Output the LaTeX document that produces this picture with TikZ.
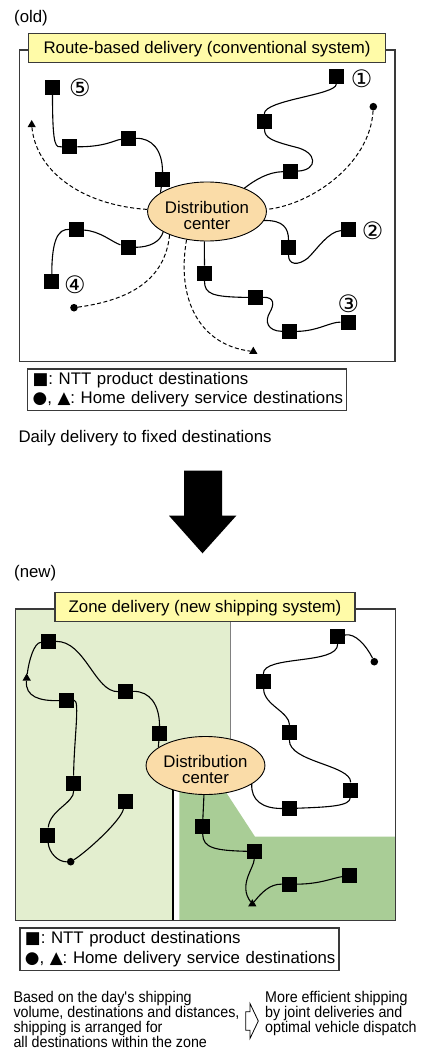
\documentclass[tikz,border=0pt]{standalone}
\usepackage{fontspec}
\setmainfont{Liberation Sans}
\newfontfamily\circfont{DejaVu Sans}
\newfontfamily\narrowfont[FakeStretch=0.92]{Liberation Sans}
\newcommand\mk[1]{{\circfont #1}}
\usetikzlibrary{shapes.geometric}

\definecolor{framegray}{HTML}{3A3A3A}
\definecolor{titleyellow}{HTML}{FFFBA8}
\definecolor{hubpeach}{HTML}{FADCA8}
\definecolor{zonelight}{HTML}{E3EECF}
\definecolor{zonedark}{HTML}{A9CD96}

\tikzset{
  every node/.style={font=\fontsize{16.8pt}{20pt}\selectfont},
  dest/.style={rectangle, fill=black, minimum size=15pt, inner sep=0pt},
  homedot/.style={circle, fill=black, minimum size=7.6pt, inner sep=0pt},
  hometri/.style={regular polygon, regular polygon sides=3, fill=black,
    minimum size=9.6pt, inner sep=0pt},
  hub/.style={ellipse, draw=black, line width=0.9pt, fill=hubpeach,
    minimum width=113pt, minimum height=59pt, inner sep=0pt, align=center,
    font=\fontsize{16.8pt}{16pt}\selectfont},
  route/.style={line width=1.1pt},
  hdash/.style={line width=1pt, dash pattern=on 4pt off 2.5pt},
  frame/.style={draw=framegray, line width=1.3pt},
  titlebox/.style={draw=framegray, line width=1.2pt, fill=titleyellow,
    inner sep=0pt, text height=14pt, text depth=3pt, minimum height=29pt},
  legendbox/.style={draw=framegray, line width=1.2pt, fill=white,
    anchor=north west, inner xsep=5pt, inner ysep=0pt, align=left,
    text width=309pt, font=\fontsize{16.8pt}{19.5pt}\selectfont},
  circnum/.style={font=\circfont\fontsize{24pt}{24pt}\selectfont, inner sep=0pt},
  plain/.style={anchor=base west, inner sep=0pt},
  note/.style={anchor=base west, inner sep=0pt, align=left,
    font=\narrowfont\fontsize{15.5pt}{15pt}\selectfont},
}

\begin{document}
\frenchspacing
\begin{tikzpicture}[x=1pt, y=-1pt]
\fill[white] (0,0) rectangle (423,1059);
\useasboundingbox (0,0) rectangle (423,1059);

% ---------------- conventional system ----------------
\node[plain] (oldlbl) at (14,22.5) {(old)};
\draw[frame] (19.5,50) rectangle (395,361.7);
\node[titlebox, minimum width=357.4pt] (t1) at (207,47.7)
  {Route-based delivery (conventional system)};

\node[hub] (dc) at (207,211.5) {\rule{0pt}{19.6pt}Distribution\\center};

\node[dest] (s5a) at (52.5,87.5) {};
\node[dest] (s5b) at (69.7,146.7) {};
\node[dest] (s5c) at (128.5,138.5) {};
\node[dest] (s5d) at (162.5,179.5) {};
\node[dest] (s1a) at (336.5,76.5) {};
\node[dest] (s1b) at (264.5,121.5) {};
\node[dest] (s1c) at (290.5,171.5) {};
\node[dest] (s4a) at (76.5,229.7) {};
\node[dest] (s4b) at (128.2,247.5) {};
\node[dest] (s4c) at (51.8,281.5) {};
\node[dest] (s2a) at (288.5,247.5) {};
\node[dest] (s2b) at (348.5,229.7) {};
\node[dest] (s3a) at (204.5,273.3) {};
\node[dest] (s3b) at (255.5,297.5) {};
\node[dest] (s3c) at (289.5,331.5) {};
\node[dest] (s3d) at (348.2,322.2) {};

\node[homedot] (h1) at (373.3,106.7) {};
\node[homedot] (h2) at (74,307.7) {};
\node[hometri] (k1) at (31.7,124.8) {};
\node[hometri] (k2) at (253.3,351.5) {};

\node[circnum] (n1) at (361.7,79) {①};
\node[circnum] (n2) at (372.7,230.7) {②};
\node[circnum] (n3) at (348.3,303.3) {③};
\node[circnum] (n4) at (75,285) {④};
\node[circnum] (n5) at (80,88) {⑤};

% route 5
\draw[route] (s5a) .. controls (52.5,150) and (56,147) .. (s5b);
\draw[route] (s5b) .. controls (105,147) and (115,140) .. (s5c);
\draw[route] (s5c) .. controls (152,138) and (162.5,150) .. (s5d);
\draw[route] (s5d) -- (dc.158);
% route 1
\draw[route] (dc.32) .. controls (255,180) and (268,172) .. (s1c);
\draw[route] (s1c) .. controls (318,170) and (318,152) .. (295,147)
  .. controls (272,141) and (264.5,138) .. (s1b);
\draw[route] (s1b) .. controls (264,100) and (336,95) .. (s1a);
% route 2
\draw[route] (dc.-9) .. controls (283,220) and (288.5,228) .. (s2a);
\draw[route] (s2a) .. controls (288.5,265) and (298,266) .. (308,258)
  .. controls (318,248) and (328,232) .. (s2b);
% route 3
\draw[route] (dc.-95) -- (s3a);
\draw[route] (s3a) .. controls (204.5,294) and (212,297) .. (s3b);
\draw[route] (s3b) .. controls (275,297) and (274,305) .. (270,312)
  .. controls (264,322) and (268,331) .. (s3c);
\draw[route] (s3c) .. controls (318,331) and (330,322) .. (s3d);
% route 4
\draw[route] (dc.205) .. controls (160,242) and (150,247) .. (s4b);
\draw[route] (s4b) .. controls (112,242) and (100,231) .. (s4a);
\draw[route] (s4a) .. controls (58,229) and (51.8,240) .. (s4c);
% home delivery runs
\draw[hdash] (k1) .. controls (36,170) and (80,205) .. (dc.178);
\draw[hdash] (h1) .. controls (370,165) and (310,205) .. (dc.2);
\draw[hdash] (dc.212) .. controls (165,280) and (130,300) .. (h2);
\draw[hdash] (dc.234) .. controls (176,300) and (200,345) .. (k2);

\node[legendbox, minimum width=319pt, minimum height=41.7pt]
  (leg1) at (27,368.3)
  {\mbox{\mk{■}: NTT product destinations}\\\mbox{\mk{●}, \mk{▲}: Home delivery service destinations}};

\node[plain] (daily) at (18.3,442.3) {Daily delivery to fixed destinations};

% transition arrow
\fill[black] (184,470.7) -- (222,470.7) -- (222,515.7) -- (236.3,515.7)
  -- (202.5,553.3) -- (169,515.7) -- (184,515.7) -- cycle;

% ---------------- new shipping system ----------------
\node[plain] (newlbl) at (14,577.5) {(new)};

\fill[zonelight] (15.7,609) -- (230,609) -- (230,765) -- (173,765)
  -- (173,920.7) -- (15.7,920.7) -- cycle;
\fill[zonedark] (179.3,770) -- (211.5,770) -- (255,836.7) -- (395.7,836.7)
  -- (395.7,920.7) -- (179.3,920.7) -- cycle;
\draw[gray, line width=0.8pt] (230,609) -- (230,765);
\draw[black, line width=1.3pt] (173,765) -- (173,920.7);
\draw[frame] (15.7,609) rectangle (395.7,920.7);
\node[titlebox, minimum width=300pt] (t2) at (205,607.2)
  {Zone delivery (new shipping system)};

\node[hub, minimum height=58pt] (dc2) at (205.5,765.5) {\rule{0pt}{19.6pt}Distribution\\center};

\node[dest] (b1) at (48.5,641.5) {};
\node[dest] (b2) at (66.5,700.5) {};
\node[dest] (b3) at (125.5,691.5) {};
\node[dest] (b4) at (159.5,733.5) {};
\node[dest] (b5) at (337.5,636.5) {};
\node[dest] (b6) at (263.5,681.5) {};
\node[dest] (b7) at (289.5,732.5) {};
\node[dest] (b8) at (73.5,783.3) {};
\node[dest] (b9) at (125.5,801.5) {};
\node[dest] (b10) at (47.5,835) {};
\node[dest] (b11) at (350.5,790) {};
\node[dest] (b12) at (289.5,808.5) {};
\node[dest] (b13) at (202.5,826.5) {};
\node[dest] (b14) at (254.5,851.5) {};
\node[dest] (b15) at (289.5,884.2) {};
\node[dest] (b16) at (349.5,875.5) {};

\node[homedot] (h3) at (70.7,861.7) {};
\node[homedot] (h4) at (374.3,661.7) {};
\node[hometri] (k3) at (26.7,678.2) {};
\node[hometri] (k4) at (252.3,904) {};

% west zone loop
\draw[route] (dc2.159) -- (b4);
\draw[route] (b4) .. controls (159.5,705) and (150,691) .. (b3);
\draw[route] (b3) .. controls (95,692) and (85,641) .. (b1);
\draw[route] (b1) .. controls (34,643) and (29,660) .. (k3);
\draw[route] (k3) .. controls (25,697) and (40,701) .. (b2);
\draw[route] (b2) .. controls (80,700) and (74,740) .. (b8);
\draw[route] (b8) .. controls (74,803) and (50,810) .. (b10);
\draw[route] (b10) .. controls (49,853) and (58,862) .. (h3);
\draw[route] (h3) .. controls (85,853) and (120,822) .. (b9);
% north-east zone loop
\draw[route] (dc2.-22) .. controls (251,800) and (262,808.5) .. (b12);
\draw[route] (b12) .. controls (330,807) and (350,806) .. (b11);
\draw[route] (b11) .. controls (351,765) and (289,762) .. (b7);
\draw[route] (b7) .. controls (289.5,712) and (264,705) .. (b6);
\draw[route] (b6) .. controls (263,655) and (338,665) .. (b5);
\draw[route] (b5) .. controls (355,633) and (366,645) .. (h4);
% south-east zone run
\draw[route] (dc2.-93) -- (b13);
\draw[route] (b13) .. controls (203,848) and (215,850.5) .. (b14);
\draw[route] (b14) .. controls (254,868) and (238,885) .. (k4);
\draw[route] (k4) .. controls (262,892) and (270,884) .. (b15);
\draw[route] (b15) .. controls (320,884) and (333,878) .. (b16);

\node[legendbox, minimum width=319pt, minimum height=42.7pt]
  (leg2) at (19.3,927.3)
  {\mbox{\mk{■}: NTT product destinations}\\\mbox{\mk{●}, \mk{▲}: Home delivery service destinations}};

% the base anchor of a multi-line note sits on its last line
\node[note] (basis) at (13.3,1047.3)
  {Based on the day\textquotesingle s shipping\\volume, destinations and distances,\\shipping is arranged for\\all destinations within the zone};
\node[note] (gain) at (265,1032.3)
  {More efficient shipping\\by joint deliveries and\\optimal vehicle dispatch};
% hollow arrow between the two notes
\draw[line width=0.8pt] (245.7,1011.7) -- (250,1011.7) -- (250,1003.5)
  -- (258.3,1021) -- (250,1038.5) -- (250,1030.3) -- (245.7,1030.3) -- cycle;
\end{tikzpicture}
\end{document}
